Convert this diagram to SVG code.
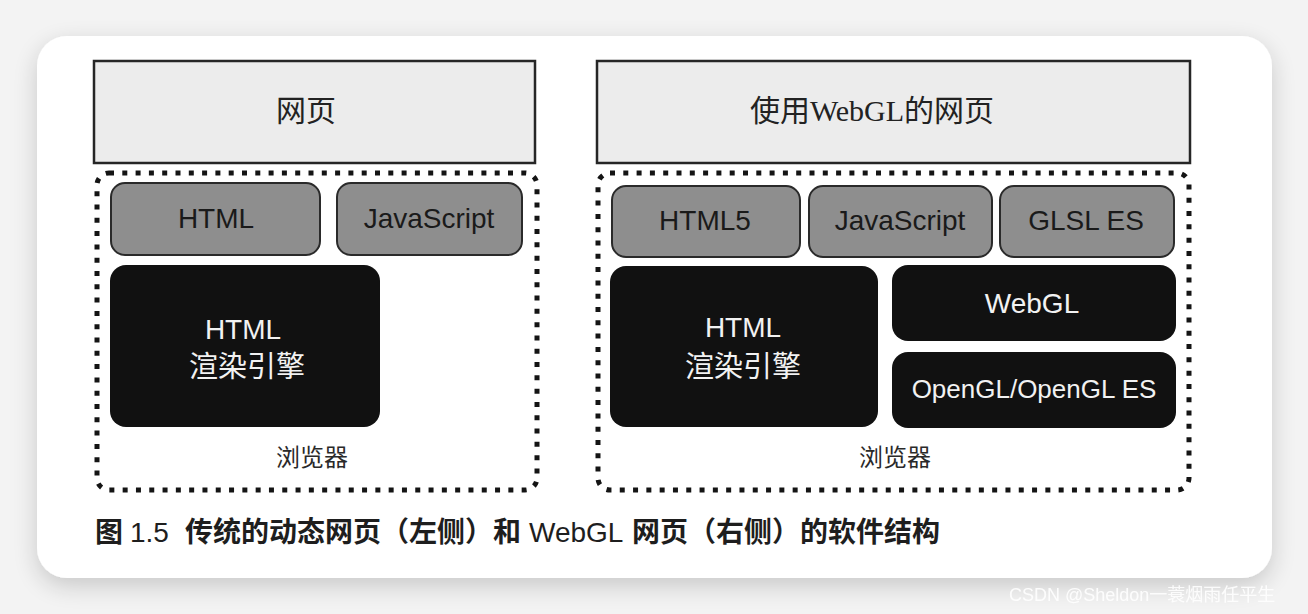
<svg xmlns="http://www.w3.org/2000/svg" width="1308" height="614" viewBox="0 0 1308 614">
  <defs>
    <filter id="shadow" x="-5%" y="-10%" width="110%" height="125%">
      <feGaussianBlur in="SourceAlpha" stdDeviation="12"/>
      <feOffset dx="0" dy="8" result="b"/>
      <feComponentTransfer><feFuncA type="linear" slope="0.18"/></feComponentTransfer>
      <feMerge><feMergeNode/><feMergeNode in="SourceGraphic"/></feMerge>
    </filter>
    <style>
      .top { fill: #ececec; stroke: #262626; stroke-width: 2.5; }
      .browser { fill: none; stroke: #141414; stroke-width: 5; stroke-dasharray: 5 8.3; }
      .lang { fill: #8e8e8e; stroke: #2a2a2a; stroke-width: 2; }
      .engine { fill: #111111; }
      .lbl { font-family: "Liberation Sans", Arial, sans-serif; font-size: 28px; fill: #1a1a1a; text-anchor: middle; }
      .wlbl { font-family: "Liberation Sans", Arial, sans-serif; font-size: 28px; fill: #f2f2f2; text-anchor: middle; }
      .wcjk { font-family: "Noto Sans CJK SC", sans-serif; font-size: 29px; fill: #f2f2f2; text-anchor: middle; }
      .title { font-family: "Liberation Serif", "Noto Sans CJK SC", serif; font-size: 30px; fill: #222; text-anchor: middle; }
      .brw { font-family: "Noto Sans CJK SC", sans-serif; font-size: 24px; fill: #2a2a2a; text-anchor: middle; }
      .cap { font-family: "Liberation Sans", "Noto Sans CJK SC", sans-serif; font-size: 28px; fill: #1e1e1e; }
      .capc { font-family: "Noto Sans CJK SC", sans-serif; font-weight: bold; }
    </style>
  </defs>

  <rect x="0" y="0" width="1308" height="614" fill="#f3f3f3"/>
  <rect id="card" x="37" y="36" width="1235" height="542" rx="30" fill="#ffffff" filter="url(#shadow)"/>

  <!-- Left diagram -->
  <g id="left-webpage">
    <rect class="top" x="94" y="61" width="441" height="102"/>
    <text class="title" x="306" y="121">网页</text>
  </g>
  <g id="left-browser">
    <rect class="browser" x="97" y="173" width="440" height="317" rx="12"/>
    <text class="brw" x="312" y="466">浏览器</text>
  </g>
  <g id="left-html">
    <rect class="lang" x="111" y="183" width="209" height="72" rx="14"/>
    <text class="lbl" x="216" y="228">HTML</text>
  </g>
  <g id="left-js">
    <rect class="lang" x="337" y="183" width="185" height="72" rx="14"/>
    <text class="lbl" x="429" y="228">JavaScript</text>
  </g>
  <g id="left-engine">
    <rect class="engine" x="110" y="265" width="270" height="162" rx="16"/>
    <text class="wlbl" x="243" y="339">HTML</text>
    <text class="wcjk" x="247" y="377">渲染引擎</text>
  </g>

  <!-- Right diagram -->
  <g id="right-webpage">
    <rect class="top" x="597" y="61" width="593" height="102"/>
    <text class="title" x="872" y="121">使用WebGL的网页</text>
  </g>
  <g id="right-browser">
    <rect class="browser" x="598" y="173" width="591" height="317" rx="12"/>
    <text class="brw" x="895" y="466">浏览器</text>
  </g>
  <g id="right-html5">
    <rect class="lang" x="612" y="186" width="188" height="71" rx="14"/>
    <text class="lbl" x="705" y="230">HTML5</text>
  </g>
  <g id="right-js">
    <rect class="lang" x="809" y="186" width="183" height="71" rx="14"/>
    <text class="lbl" x="900" y="230">JavaScript</text>
  </g>
  <g id="right-glsl">
    <rect class="lang" x="1000" y="186" width="174" height="71" rx="14"/>
    <text class="lbl" x="1086" y="230">GLSL ES</text>
  </g>
  <g id="right-engine">
    <rect class="engine" x="610" y="266" width="268" height="161" rx="16"/>
    <text class="wlbl" x="743" y="337">HTML</text>
    <text class="wcjk" x="743" y="377">渲染引擎</text>
  </g>
  <g id="right-webgl">
    <rect class="engine" x="892" y="265" width="284" height="76" rx="16"/>
    <text class="wlbl" x="1032" y="313">WebGL</text>
  </g>
  <g id="right-opengl">
    <rect class="engine" x="892" y="352" width="284" height="76" rx="16"/>
    <text class="wlbl" x="1034" y="398" style="font-size:26px">OpenGL/OpenGL ES</text>
  </g>

  <g id="connectors"></g>

  <!-- Caption -->
  <g id="caption">
    <text class="cap" y="542"><tspan class="capc" x="95">图</tspan><tspan x="130">1.5</tspan><tspan class="capc" x="185">传统的动态网页（左侧）和</tspan><tspan x="529">WebGL</tspan><tspan class="capc" x="632">网页（右侧）的软件结构</tspan></text>
  </g>

  <text x="1009" y="601" style="font-family:'Liberation Sans','Noto Sans CJK SC',sans-serif;font-size:18px;fill:#ffffff;opacity:0.9">CSDN @Sheldon一蓑烟雨任平生</text>
</svg>
